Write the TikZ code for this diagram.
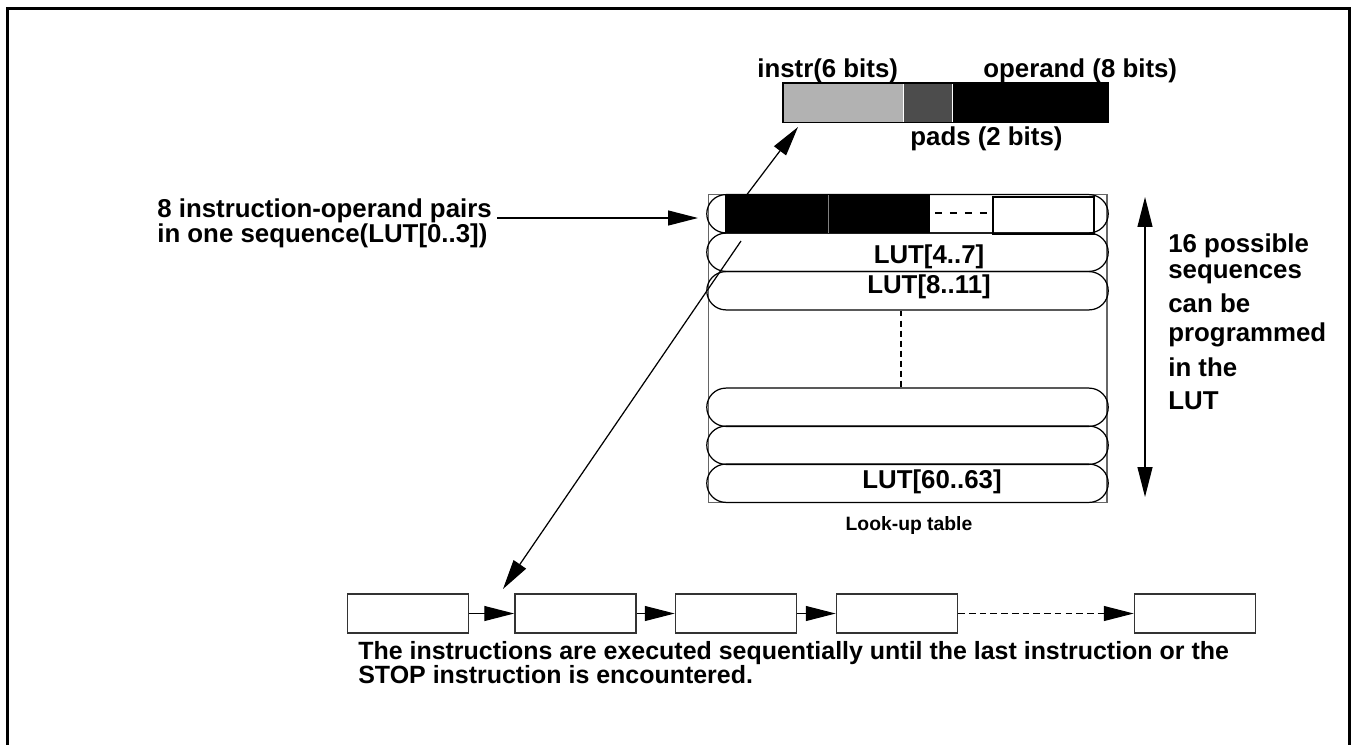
\documentclass[tikz,border=0pt]{standalone}
\usepackage{fontspec}
\setmainfont{Liberation Sans}
\usepackage{tikz}
\usetikzlibrary{arrows.meta,positioning,calc}
\definecolor{barlight}{gray}{0.70}
\definecolor{bardark}{gray}{0.30}
\definecolor{framegray}{gray}{0.40}
\tikzset{
  arr/.style={-{Triangle[length=17pt,width=8.5pt]},line width=0.7pt},
  dblarr/.style={{Triangle[length=17pt,width=8.5pt]}-{Triangle[length=17pt,width=8.5pt]},line width=0.7pt},
  dashln/.style={dash pattern=on 3.4pt off 2.3pt,line width=0.6pt},
  seqbox/.style={draw=black!80,line width=0.8pt,minimum width=69pt,minimum height=22pt,inner sep=0pt},
  lutrow/.style={draw,line width=0.7pt,rounded corners=10.9pt,minimum width=228.5pt,minimum height=21.8pt,inner sep=0pt},
  barcell/.style={minimum height=22.1pt,inner sep=0pt,anchor=north west},
  lbl/.style={font=\fontsize{14.7}{14.7}\selectfont\bfseries,inner sep=0pt},
  slbl/.style={font=\fontsize{11}{13}\selectfont\bfseries,inner sep=0pt},
}
\begin{document}
\begin{tikzpicture}[x=0.02cm,y=-0.02cm]
  \useasboundingbox (0,0) rectangle (1351,744);
  \draw[line width=1.7pt] (7.5,8.5) rectangle (1349.5,770);
  % instruction word
  \node[barcell,fill=barlight,minimum width=68pt] (barI) at (783,83) {};
  \node[barcell,fill=bardark,minimum width=27.8pt] (barP) at (barI.north east) {};
  \node[barcell,fill=black,minimum width=88.4pt] (barO) at (barP.north east) {};
  \draw[line width=0.6pt] (barI.north west) rectangle (barO.south east);
  \node[lbl,anchor=base west] (instr) at (757,77) {instr(6 bits)};
  \node[lbl,anchor=base west] (operand) at (983,77) {operand (8 bits)};
  \node[lbl,anchor=base west] (pads) at (910,145) {pads (2 bits)};
  % look-up table
  \draw[framegray,line width=0.7pt] (708.5,194.5) rectangle (1107,502.5);
  \foreach \yy/\nm in {194.5/r1,233/r2,271.5/r3,388/r4,426/r5,464/r6}
    \node[lutrow] (\nm) at (907.5,\yy+19.25) {};
  \draw[dashln] ([xshift=-3.7pt]r3.south) -- ([xshift=-3.7pt]r4.north);
  \node[lbl,anchor=base] (l2) at (929,263) {LUT[4..7]};
  \node[lbl,anchor=base] (l3) at (929,293.5) {LUT[8..11]};
  \node[lbl,anchor=base] (l6) at (932,488) {LUT[60..63]};
  \node[slbl,anchor=base] (looklbl) at (909,530) {Look-up table};
  % arrows out of the first sequence
  \coordinate (upFoot) at (733,213);
  \coordinate (upTip) at (798,127);
  \draw[arr] (upFoot) -- (upTip);
  \coordinate (dnFoot) at (741,241);
  \coordinate (dnTip) at (503,589);
  \draw[arr] (dnFoot) -- (dnTip);
  % first sequence: instruction-operand pairs
  \node[barcell,fill=black,minimum width=58.4pt,minimum height=21.5pt] (c1) at (725,195) {};
  \node[barcell,fill=black,minimum width=57.8pt,minimum height=21.5pt] (c2) at (c1.north east) {};
  \draw[gray,line width=0.4pt] (c1.north east) -- (c1.south east);
  \node[barcell,draw,line width=1.2pt,minimum width=57.3pt,minimum height=21.2pt] (c4) at (992,195.5) {};
  \draw[line width=1.1pt,dash pattern=on 4pt off 4.5pt] (935,213) -- (988,213);
  \node[lbl,align=left,anchor=north west] (pairs) at (157,198) {8 instruction-operand pairs\\in one sequence(LUT[0..3])};
  \coordinate (pairsTip) at (698,218);
  \draw[arr] ([xshift=3pt]pairs.east |- pairsTip) -- (pairsTip);
  % number of sequences
  \coordinate (seqTop) at (1145,197);
  \coordinate (seqBot) at (1145,497);
  \draw[dblarr] (seqTop) -- (seqBot);
  \node[font=\fontsize{14.7}{15.3}\selectfont\bfseries,inner sep=0pt,align=left,anchor=north west] (seqtxt) at (1168,233)
    {16 possible\\sequences\\[4pt]can be\\[1.1pt]programmed\\[4.5pt]in the\\[3.4pt]LUT};
  % execution order
  \node[seqbox] (b1) at (408,613.5) {};
  \node[seqbox] (b2) at (575.5,613.5) {};
  \node[seqbox] (b3) at (736,613.5) {};
  \node[seqbox] (b4) at (897,613.5) {};
  \node[seqbox] (b5) at (1195,613.5) {};
  \draw[arr] (b1) -- (b2);
  \draw[arr] (b2) -- (b3);
  \draw[arr] (b3) -- (b4);
  \draw[arr,dash pattern=on 3.8pt off 2.3pt] (b4) -- (b5);
  \node[font=\fontsize{14.2}{13.6}\selectfont\bfseries,inner sep=0pt,align=left,anchor=north west] (exec) at (358,641)
    {The instructions are executed sequentially until the last instruction or the\\STOP instruction is encountered.};
\end{tikzpicture}
\end{document}
